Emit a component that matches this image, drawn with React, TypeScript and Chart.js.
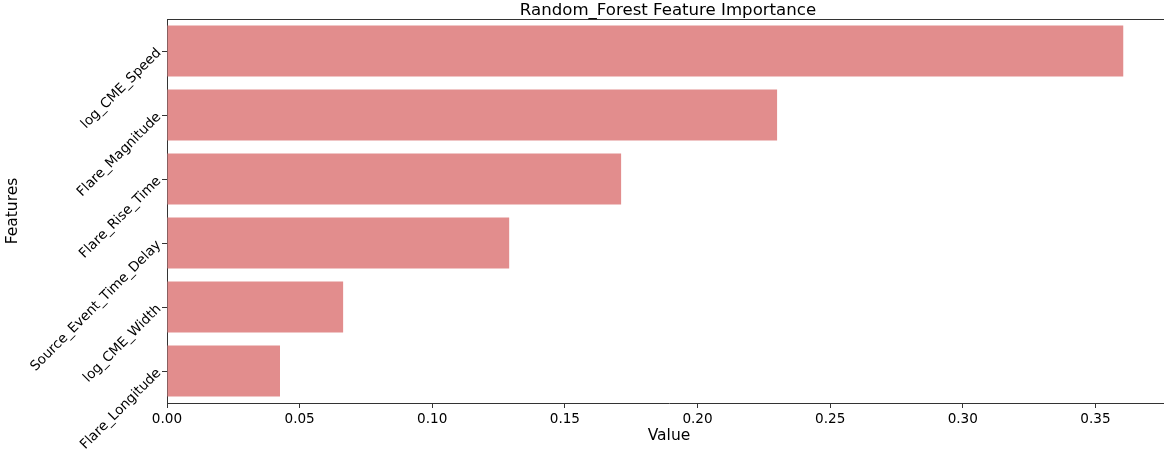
import { useEffect, useRef } from "react";
import { Chart, registerables } from "chart.js";

Chart.register(...registerables);

const features = [
  "log_CME_Speed",
  "Flare_Magnitude",
  "Flare_Rise_Time",
  "Source_Event_Time_Delay",
  "log_CME_Width",
  "Flare_Longitude",
];
const importance = [0.3605, 0.23, 0.1712, 0.129, 0.0664, 0.0426];
const chartTitle = "Random_Forest Feature Importance";
const xLabel = "Value";
const yLabel = "Features";
const xMax = 0.3785;
const xStep = 0.05;

const FONT = "'DejaVu Sans', sans-serif";
const BAR = "#e28d8d";
const SPINE = "#333333";

const titlePlugin = {
  id: "mplTitle",
  afterDraw(chart: any) {
    const { ctx, chartArea } = chart;
    const { left, right, top } = chartArea;
    ctx.save();
    ctx.strokeStyle = SPINE;
    ctx.lineWidth = 1;
    ctx.beginPath();
    ctx.moveTo(left, top + 0.5);
    ctx.lineTo(right, top + 0.5);
    ctx.stroke();
    ctx.fillStyle = "#000";
    ctx.font = `16.6px ${FONT}`;
    ctx.textAlign = "center";
    ctx.textBaseline = "alphabetic";
    ctx.fillText(chartTitle, (left + right) / 2 - 1, top - 4.5);
    ctx.restore();
  },
};

export default function App() {
  const ref = useRef<HTMLCanvasElement | null>(null);

  useEffect(() => {
    if (!ref.current) return;
    const chart = new Chart(ref.current, {
      type: "bar",
      data: {
        labels: features,
        datasets: [
          {
            data: importance,
            backgroundColor: BAR,
            borderWidth: 0,
            categoryPercentage: 1,
            barPercentage: 0.8,
          },
        ],
      },
      options: {
        indexAxis: "y",
        animation: false,
        responsive: false,
        devicePixelRatio: 1,
        layout: { padding: { top: 19, left: 0, right: 0, bottom: 0 } },
        plugins: {
          legend: { display: false },
          title: { display: false },
          tooltip: { enabled: false },
        },
        scales: {
          x: {
            type: "linear",
            min: 0,
            max: xMax,
            afterFit: (s: any) => {
              s.height = 51;
            },
            grid: {
              drawOnChartArea: false,
              drawTicks: true,
              tickLength: 5,
              color: SPINE,
              lineWidth: 1,
            },
            border: { display: true, color: SPINE, width: 1 },
            ticks: {
              stepSize: xStep,
              includeBounds: false,
              padding: 3,
              color: "#000",
              font: { family: FONT, size: 13.6 },
              callback: (v: any) => Number(v).toFixed(2),
              maxRotation: 0,
              autoSkip: false,
            },
            title: {
              display: true,
              text: xLabel,
              color: "#000",
              font: { family: FONT, size: 15.5 },
              padding: { top: 0, bottom: 9 },
            },
          },
          y: {
            type: "category",
            offset: true,
            afterFit: (s: any) => {
              s.width = 167;
            },
            grid: {
              offset: false,
              drawOnChartArea: false,
              drawTicks: true,
              tickLength: 5,
              color: SPINE,
              lineWidth: 1,
            },
            border: { display: true, color: SPINE, width: 1 },
            ticks: {
              minRotation: 45,
              maxRotation: 45,
              padding: 3,
              autoSkip: false,
              color: "#000",
              font: { family: FONT, size: 13.6 },
            },
            title: {
              display: true,
              text: yLabel,
              color: "#000",
              font: { family: FONT, size: 15.5 },
              padding: { top: 4, bottom: 0 },
            },
          },
        },
      },
      plugins: [titlePlugin],
    });
    return () => chart.destroy();
  }, []);

  return (
    <div
      style={{
        position: "fixed",
        left: 0,
        top: 0,
        width: 1164,
        height: 454,
        overflow: "hidden",
        background: "#fff",
      }}
    >
      <canvas ref={ref} width={1171} height={454} style={{ display: "block" }} />
    </div>
  );
}
